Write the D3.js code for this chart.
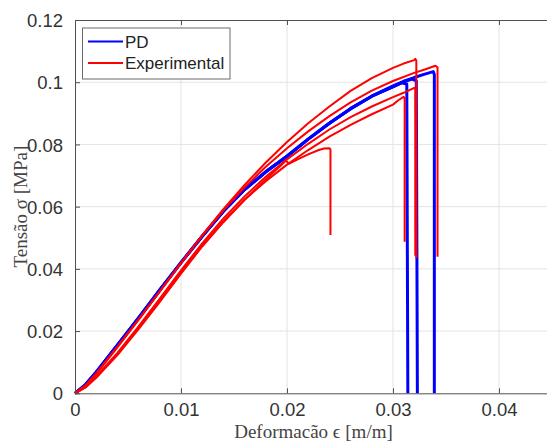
<!DOCTYPE html>
<html><head><meta charset="utf-8">
<script src="https://cdn.jsdelivr.net/npm/d3@7"></script>
<style>body{margin:0;background:#fff}svg{display:block}</style>
</head><body>
<svg id="c" width="547" height="444"></svg>
<script>
// ---- data ----
const xTicks = [0, 0.01, 0.02, 0.03, 0.04];
const yTicks = [0, 0.02, 0.04, 0.06, 0.08, 0.1, 0.12];
const xTickLabels = ["0", "0.01", "0.02", "0.03", "0.04"];
const yTickLabels = ["0", "0.02", "0.04", "0.06", "0.08", "0.1", "0.12"];
const legendLabels = ["PD", "Experimental"];

const pdA = [[0,0],[0.001,0.0028],[0.002,0.0068],[0.004,0.0155],[0.006,0.0242],[0.008,0.0332],[0.01,0.042],[0.012,0.0505],[0.014,0.0585],[0.016,0.0655],[0.018,0.0712],[0.02,0.0762],[0.022,0.0817],[0.024,0.0868],[0.026,0.0915],[0.028,0.0955],[0.03,0.0988],[0.031,0.1003],[0.032,0.1015],[0.033,0.1026],[0.0338,0.1034],[0.0339,0.1025],[0.0339,0]];
const pdB = [[0,0],[0.001,0.0028],[0.002,0.0068],[0.004,0.0155],[0.006,0.0242],[0.008,0.0332],[0.01,0.042],[0.012,0.0505],[0.014,0.0585],[0.016,0.0655],[0.018,0.0712],[0.02,0.0762],[0.022,0.0817],[0.024,0.0868],[0.026,0.0915],[0.028,0.0955],[0.03,0.0986],[0.031,0.1001],[0.0318,0.101],[0.0322,0.1004],[0.0323,0]];
const pdC = [[0,0],[0.001,0.0028],[0.002,0.0068],[0.004,0.0155],[0.006,0.0242],[0.008,0.0332],[0.01,0.042],[0.012,0.0505],[0.014,0.0585],[0.016,0.0655],[0.018,0.0712],[0.02,0.0762],[0.022,0.0817],[0.024,0.0868],[0.026,0.0915],[0.028,0.0955],[0.03,0.0985],[0.0308,0.0998],[0.0313,0.0994],[0.0314,0]];

const exp1 = [[0,0],[0.001,0.0024],[0.002,0.0062],[0.004,0.0148],[0.006,0.0236],[0.008,0.0327],[0.01,0.0418],[0.012,0.0508],[0.014,0.0592],[0.016,0.067],[0.018,0.0742],[0.02,0.0808],[0.022,0.0868],[0.024,0.0922],[0.026,0.0972],[0.028,0.1013],[0.03,0.1046],[0.031,0.106],[0.032,0.1071],[0.0321,0.1075],[0.0322,0.107],[0.0322,0.0435]];
const exp2 = [[0,0],[0.001,0.0026],[0.002,0.0064],[0.004,0.015],[0.006,0.0238],[0.008,0.0328],[0.01,0.0419],[0.012,0.0506],[0.014,0.0588],[0.016,0.0662],[0.018,0.0728],[0.02,0.0788],[0.022,0.0842],[0.024,0.0891],[0.026,0.0935],[0.028,0.0973],[0.03,0.1004],[0.032,0.103],[0.033,0.1041],[0.034,0.1053],[0.0342,0.1048],[0.0342,0.0439]];
const exp3 = [[0,0],[0.001,0.002],[0.002,0.0052],[0.004,0.0126],[0.006,0.021],[0.008,0.0298],[0.01,0.0388],[0.012,0.0475],[0.014,0.0553],[0.016,0.0622],[0.018,0.0682],[0.02,0.0735],[0.022,0.0782],[0.024,0.0825],[0.026,0.0863],[0.028,0.0897],[0.03,0.0928],[0.0305,0.0942],[0.031,0.0953],[0.0311,0.0948],[0.0311,0.0487]];
const exp4 = [[0,0],[0.001,0.0021],[0.002,0.0054],[0.004,0.013],[0.006,0.0215],[0.008,0.0304],[0.01,0.0395],[0.012,0.0482],[0.014,0.0562],[0.016,0.0633],[0.018,0.0696],[0.02,0.0752],[0.022,0.0802],[0.024,0.0848],[0.026,0.0888],[0.028,0.0922],[0.03,0.0952],[0.031,0.0966],[0.032,0.0982],[0.0321,0.0978],[0.0321,0.0442]];
const exp5 = [[0,0],[0.001,0.0019],[0.002,0.005],[0.004,0.0123],[0.006,0.0206],[0.008,0.0294],[0.01,0.0385],[0.012,0.0472],[0.014,0.055],[0.016,0.0622],[0.018,0.0688],[0.0195,0.0735],[0.0199,0.0748],[0.0202,0.0738],[0.021,0.0752],[0.022,0.0768],[0.023,0.0782],[0.0235,0.0787],[0.024,0.0788],[0.0241,0.0784],[0.0241,0.0509]];

const pdSeries = [pdA, pdB, pdC];
const expSeries = [exp1, exp2, exp3, exp4, exp5];

// ---- layout ----
const m = {left: 75, top: 20, right: 552, bottom: 393.3};
const svg = d3.select("#c");
const x = d3.scaleLinear().domain([0, 0.045]).range([m.left, m.right]);
const y = d3.scaleLinear().domain([0, 0.12]).range([m.bottom, m.top]);
const axisCol = "#505050", textCol = "#333";

// grid
const g = svg.append("g");
g.selectAll(".gx").data(xTicks.slice(1)).enter().append("line")
  .attr("x1", d => x(d)).attr("x2", d => x(d)).attr("y1", m.top).attr("y2", m.bottom)
  .attr("stroke", "#e3e3e3").attr("stroke-width", 1);
g.selectAll(".gy").data(yTicks.slice(1, -1)).enter().append("line")
  .attr("y1", d => y(d)).attr("y2", d => y(d)).attr("x1", m.left).attr("x2", m.right)
  .attr("stroke", "#e3e3e3").attr("stroke-width", 1);

// lines
const line = d3.line().x(d => x(d[0])).y(d => y(d[1]));
const lg = svg.append("g").attr("fill", "none").attr("stroke-linejoin", "round");
lg.selectAll(".pd").data(pdSeries).enter().append("path")
  .attr("d", line).attr("stroke", "#0000ff").attr("stroke-width", 3);
lg.selectAll(".ex").data(expSeries).enter().append("path")
  .attr("d", line).attr("stroke", "#ff0000").attr("stroke-width", 2);

// axes (inward ticks, box)
const fmtX = (d, i) => xTickLabels[i];
const fmtY = (d, i) => yTickLabels[i];
const ax = svg.append("g").attr("transform", `translate(0,${m.bottom})`)
  .call(d3.axisBottom(x).tickValues(xTicks).tickFormat(fmtX).tickSizeInner(-5).tickSizeOuter(0).tickPadding(10));
const ay = svg.append("g").attr("transform", `translate(${m.left},0)`)
  .call(d3.axisLeft(y).tickValues(yTicks).tickFormat(fmtY).tickSizeInner(-5).tickSizeOuter(0).tickPadding(12));
const axT = svg.append("g").attr("transform", `translate(0,${m.top})`)
  .call(d3.axisTop(x).tickValues(xTicks).tickFormat("").tickSizeInner(-5).tickSizeOuter(0));
const ayR = svg.append("g").attr("transform", `translate(${m.right},0)`)
  .call(d3.axisRight(y).tickValues(yTicks).tickFormat("").tickSizeInner(-5).tickSizeOuter(0));
[ax, ay, axT, ayR].forEach(a => {
  a.select(".domain").attr("stroke", axisCol).attr("stroke-width", 1);
  a.selectAll(".tick line").attr("stroke", axisCol);
  a.selectAll("text").attr("font-family", "'Liberation Sans', Arial, sans-serif")
    .attr("font-size", 18.5).attr("fill", textCol);
});
ay.selectAll("text").attr("dy", "0.36em");

// axis labels
svg.append("text").attr("x", (m.left + m.right) / 2).attr("y", 438)
  .attr("text-anchor", "middle").attr("font-family", "'Liberation Serif', 'Times New Roman', serif")
  .attr("font-size", 19).attr("fill", "#444").text("Deformacão ϵ [m/m]");
svg.append("text").attr("transform", `translate(27,${(m.top + m.bottom) / 2}) rotate(-90)`)
  .attr("text-anchor", "middle").attr("font-family", "'Liberation Serif', 'Times New Roman', serif")
  .attr("font-size", 19).attr("fill", "#444").text("Tensão σ [MPa]");

// legend
const leg = svg.append("g");
leg.append("rect").attr("x", 82.5).attr("y", 28).attr("width", 147.5).attr("height", 51)
  .attr("fill", "#fff").attr("stroke", "#6a6a6a").attr("stroke-width", 1);
const legCols = ["#0000ff", "#ff0000"];
legendLabels.forEach((t, i) => {
  const yy = 41.5 + i * 21.5;
  leg.append("line").attr("x1", 88).attr("x2", 123).attr("y1", yy).attr("y2", yy)
    .attr("stroke", legCols[i]).attr("stroke-width", 2);
  leg.append("text").attr("x", 125).attr("y", yy).attr("dy", "0.36em")
    .attr("font-family", "'Liberation Sans', Arial, sans-serif").attr("font-size", 17)
    .attr("fill", "#222").text(t);
});
</script>
</body></html>
